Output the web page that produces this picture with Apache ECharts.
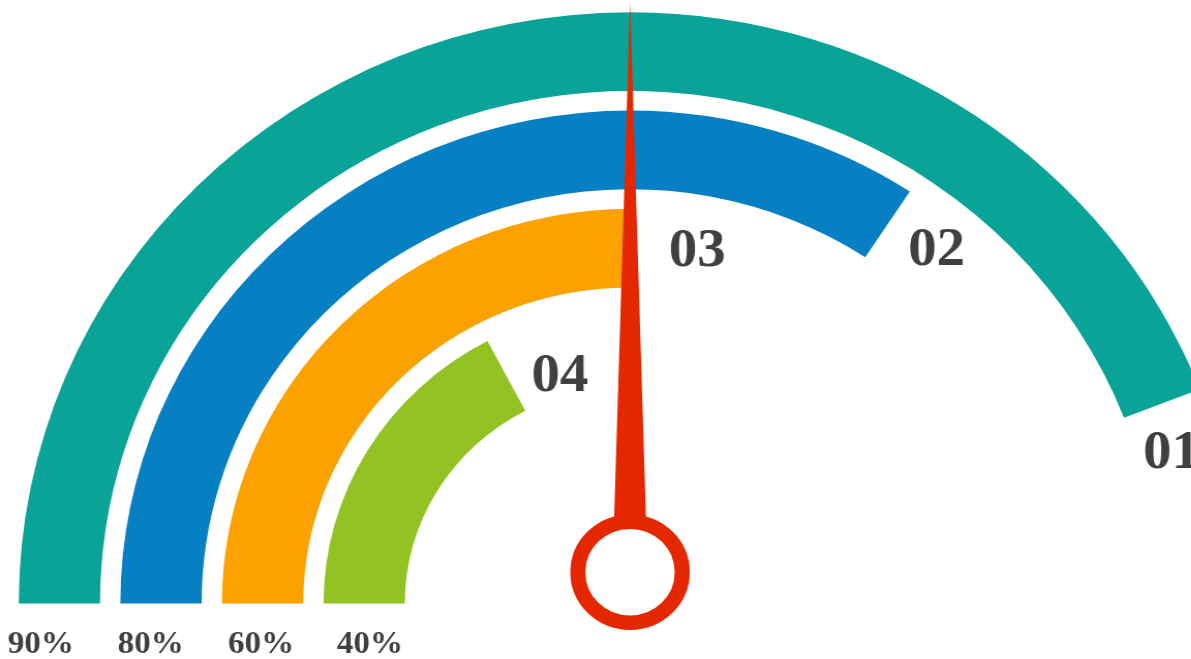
<!DOCTYPE html>
<html><head><meta charset="utf-8">
<script src="https://cdn.jsdelivr.net/npm/echarts@6/dist/echarts.min.js"></script>
<style>
html,body{margin:0;padding:0;background:#fff;overflow:hidden;width:1191px;height:659px;}
#wrap{width:1191px;height:659px;overflow:hidden;position:relative;}
#chart{width:1152px;height:659px;transform:scaleX(1.034);transform-origin:0 0;}
</style></head><body><div id="wrap"><div id="chart"></div></div>
<script>
// ---- data (rings from inner to outer) ----
const ringNames = ['04', '03', '02', '01'];
const ringPercentLabels = ['40%', '60%', '80%', '90%'];
// share of the half circle covered by each ring (100 = 180 degrees)
const ringValues = [34.6, 50, 68.5, 88.2];
const needleValue = 50;

// ---- styles ----
const ringColors = ['#92c322', '#fba200', '#0780c3', '#0aa397'];
const needleColor = '#e52700';
const textColor = '#404040';
const labelNudge = [[5, 26], [12, 4], [3, -3], [-10, 1]];
const pctPadding = [[0, 0, 0, 11], [0, 3, 0, 0], [0, 20, 0, 0], [0, 36, 0, 0]];

const chart = echarts.init(document.getElementById('chart'), null, {renderer: 'canvas'});
chart.setOption({
  animation: false,
  backgroundColor: '#fff',
  polar: {center: [609.3, 603.5], radius: [208, 601]},
  angleAxis: {type: 'value', min: 0, max: 200, startAngle: 180, clockwise: true, show: false},
  radiusAxis: {
    type: 'category',
    data: ringPercentLabels.map((t, i) => ({value: t, textStyle: {padding: pctPadding[i]}})),
    axisLine: {show: false}, axisTick: {show: false}, splitLine: {show: false},
    axisLabel: {show: true, margin: 25, fontSize: 32, fontWeight: 'bold', fontFamily: 'Liberation Serif', color: textColor}
  },
  series: [
    {
      type: 'bar', coordinateSystem: 'polar', barWidth: '80%', silent: true, z: 2,
      data: ringValues.map((v, i) => ({
        value: v, name: ringNames[i],
        itemStyle: {color: ringColors[i]},
        label: {offset: labelNudge[i]}
      })),
      label: {
        show: true, position: 'end', rotate: 0, distance: 53, align: 'center', verticalAlign: 'middle',
        formatter: '{b}', fontSize: 55, fontWeight: 'bold', fontFamily: 'Liberation Serif', color: textColor
      }
    },
    {
      type: 'gauge', center: [609.3, 572.2], radius: 570, startAngle: 180, endAngle: 0, min: 0, max: 100,
      silent: true, z: 10,
      axisLine: {show: false}, splitLine: {show: false}, axisTick: {show: false}, axisLabel: {show: false},
      progress: {show: false},
      pointer: {show: true, icon: 'path://M5 0 L10 100 L0 100 Z', length: '100%', width: 34, offsetCenter: [0, 0],
        itemStyle: {color: needleColor}},
      anchor: {show: true, showAbove: true, size: 101, itemStyle: {color: '#fff', borderColor: needleColor, borderWidth: 14.5}},
      title: {show: false}, detail: {show: false},
      data: [{value: needleValue}]
    }
  ]
});
</script></body></html>
